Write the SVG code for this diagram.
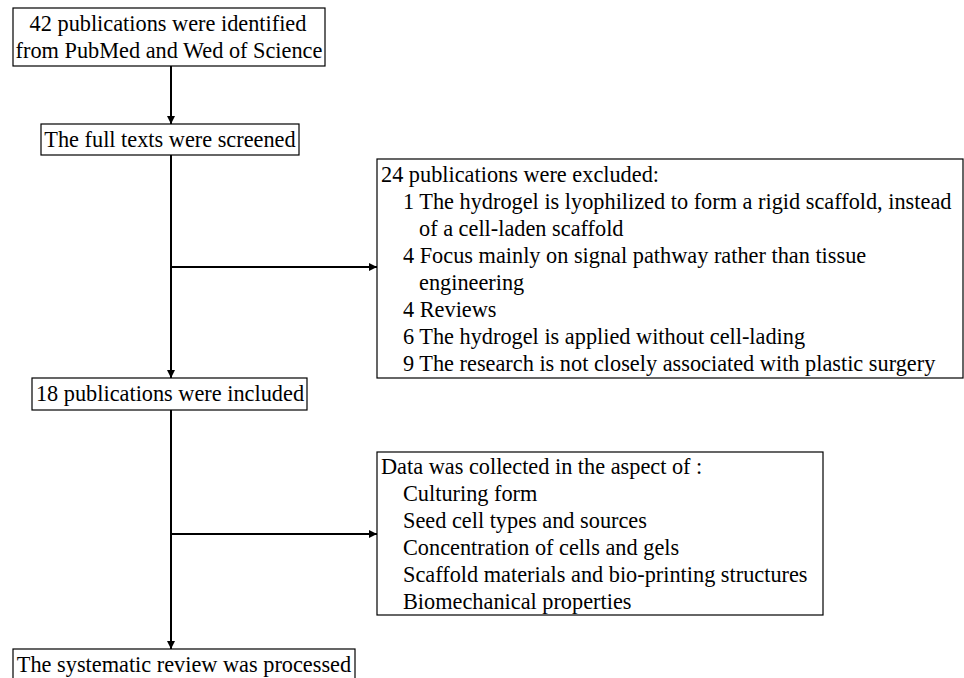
<svg xmlns="http://www.w3.org/2000/svg" width="964" height="678" viewBox="0 0 964 678" font-family="'Liberation Serif', 'Times New Roman', Times, serif" font-size="22.3">
<style>
.box{fill:#fff;stroke:#000;stroke-width:1.2}
text{font-family:'Liberation Serif','Times New Roman',Times,serif;font-size:22.3px;fill:#000}
.c{text-anchor:middle}
.ln{stroke:#000;stroke-width:2;fill:none}
</style>
<defs>
<marker id="ah" viewBox="0 0 10 10" refX="10" refY="5" markerWidth="4" markerHeight="4" orient="auto" markerUnits="strokeWidth">
<path d="M0,0 L10,5 L0,10 z" fill="#000"/>
</marker>
</defs>
<rect width="964" height="678" fill="#fff"/>
<g id="connectors">
<line class="ln" x1="171" y1="66" x2="171" y2="124" marker-end="url(#ah)"/>
<line class="ln" x1="171" y1="155" x2="171" y2="378" marker-end="url(#ah)"/>
<line class="ln" x1="171" y1="267" x2="377" y2="267" marker-end="url(#ah)"/>
<line class="ln" x1="171" y1="410" x2="171" y2="649" marker-end="url(#ah)"/>
<line class="ln" x1="171" y1="534" x2="377" y2="534" marker-end="url(#ah)"/>
</g>
<g id="identified">
<rect class="box" x="13" y="8" width="312" height="58"/>
<text class="c" x="168" y="31">42 publications were identified</text>
<text class="c" x="169" y="58">from PubMed and Wed of Science</text>
</g>
<g id="screened">
<rect class="box" x="41" y="124" width="258" height="31"/>
<text class="c" x="170" y="147">The full texts were screened</text>
</g>
<g id="excluded">
<rect class="box" x="377" y="159" width="586" height="219"/>
<text x="381" y="182">24 publications were excluded:</text>
<text x="403" y="209">1 The hydrogel is lyophilized to form a rigid scaffold, instead</text>
<text x="419" y="236">of a cell-laden scaffold</text>
<text x="403" y="263">4 Focus mainly on signal pathway rather than tissue</text>
<text x="419" y="290">engineering</text>
<text x="403" y="317">4 Reviews</text>
<text x="403" y="344">6 The hydrogel is applied without cell-lading</text>
<text x="403" y="371">9 The research is not closely associated with plastic surgery</text>
</g>
<g id="included">
<rect class="box" x="32" y="378" width="275" height="32"/>
<text class="c" x="170" y="401">18 publications were included</text>
</g>
<g id="data">
<rect class="box" x="377" y="452" width="446" height="163"/>
<text x="381" y="474">Data was collected in the aspect of :</text>
<text x="403" y="501">Culturing form</text>
<text x="403" y="528">Seed cell types and sources</text>
<text x="403" y="555">Concentration of cells and gels</text>
<text x="403" y="582">Scaffold materials and bio-printing structures</text>
<text x="403" y="609">Biomechanical properties</text>
</g>
<g id="processed">
<rect class="box" x="13" y="649" width="342" height="40"/>
<text class="c" x="184" y="672">The systematic review was processed</text>
</g>
</svg>
